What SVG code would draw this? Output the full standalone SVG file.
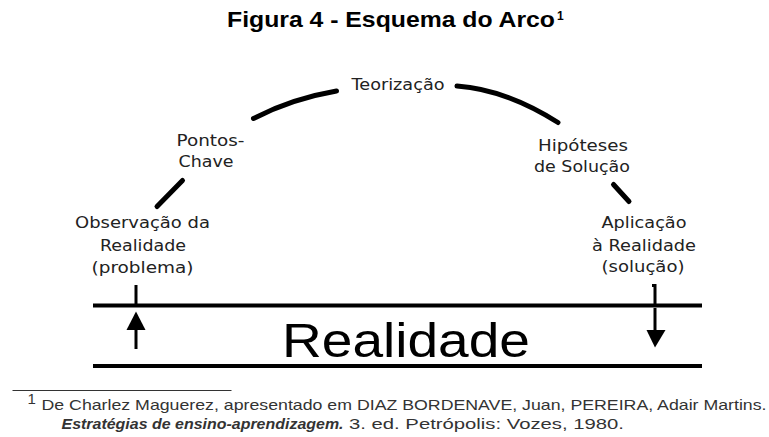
<svg xmlns="http://www.w3.org/2000/svg" width="769" height="437" viewBox="0 0 769 437">
<style>
.title{font-family:"Liberation Sans",Arial,sans-serif;font-weight:bold;fill:#000}
.lbl{font-family:"DejaVu Sans",Verdana,sans-serif;font-size:15px;fill:#222;text-anchor:middle}
.arc{fill:none;stroke:#000;stroke-width:5;stroke-linecap:round}
.bar{stroke:#000;stroke-width:4}
.tick{stroke:#000;stroke-width:3;fill:none}
.big{font-family:"Liberation Sans",Arial,sans-serif;font-size:49px;fill:#000}
.fn{font-family:"Liberation Sans",Arial,sans-serif;font-size:15px;fill:#333}
</style>
<rect width="769" height="437" fill="#fff"/>
<g id="title">
<text class="title" x="227" y="27" font-size="22" textLength="328" lengthAdjust="spacingAndGlyphs">Figura 4 - Esquema do Arco</text>
<text class="title" x="557" y="20" font-size="12">1</text>
</g>
<g id="node-teorizacao"><text class="lbl" x="398" y="90" textLength="93" lengthAdjust="spacingAndGlyphs">Teorização</text></g>
<g id="node-pontos-chave">
<text class="lbl" x="210.5" y="146" textLength="68" lengthAdjust="spacingAndGlyphs">Pontos-</text>
<text class="lbl" x="206" y="167" textLength="55" lengthAdjust="spacingAndGlyphs">Chave</text>
</g>
<g id="node-observacao">
<text class="lbl" x="142.5" y="228" textLength="135" lengthAdjust="spacingAndGlyphs">Observação da</text>
<text class="lbl" x="143" y="251" textLength="86" lengthAdjust="spacingAndGlyphs">Realidade</text>
<text class="lbl" x="142.5" y="273" textLength="102" lengthAdjust="spacingAndGlyphs">(problema)</text>
</g>
<g id="node-hipoteses">
<text class="lbl" x="583" y="151" textLength="90" lengthAdjust="spacingAndGlyphs">Hipóteses</text>
<text class="lbl" x="582" y="172" textLength="96" lengthAdjust="spacingAndGlyphs">de Solução</text>
</g>
<g id="node-aplicacao">
<text class="lbl" x="644" y="228" textLength="85" lengthAdjust="spacingAndGlyphs">Aplicação</text>
<text class="lbl" x="644" y="251" textLength="104" lengthAdjust="spacingAndGlyphs">à Realidade</text>
<text class="lbl" x="643" y="272" textLength="83" lengthAdjust="spacingAndGlyphs">(solução)</text>
</g>
<g id="node-realidade">
<line class="bar" x1="93" y1="305.5" x2="702" y2="305.5"/>
<line class="bar" x1="93" y1="366" x2="702" y2="366"/>
<text class="big" x="282" y="357" textLength="248" lengthAdjust="spacingAndGlyphs">Realidade</text>
</g>
<g id="connectors">
<path class="arc" d="M157,206.5 L182.5,180.5"/>
<path class="arc" d="M253.5,118.5 Q291.5,98.7 336.5,91"/>
<path class="arc" d="M457,86 Q506,89.5 558,122.5"/>
<path class="arc" d="M613.5,184.5 L629,201.5"/>
<line class="tick" x1="136" y1="285" x2="136" y2="305"/>
<path class="tick" d="M652,285.5 L655,285.5 L655,305"/>
<line class="tick" x1="136" y1="329" x2="136" y2="349"/>
<polygon points="136,311.5 126.5,330 145.5,330" fill="#000"/>
<line class="tick" x1="655" y1="308" x2="655" y2="331"/>
<polygon points="655,347.5 646.5,330 665.5,330" fill="#000"/>
</g>
<g id="footnote">
<line x1="12.5" y1="390.5" x2="231.5" y2="390.5" stroke="#333" stroke-width="1"/>
<text class="fn" x="27.5" y="404" font-size="11">1</text>
<text class="fn" x="41.5" y="410" textLength="725" lengthAdjust="spacingAndGlyphs">De Charlez Maguerez, apresentado em DIAZ BORDENAVE, Juan, PEREIRA, Adair Martins.</text>
<text class="fn" x="61.5" y="429" font-weight="bold" font-style="italic" fill="#111" textLength="282" lengthAdjust="spacingAndGlyphs">Estratégias de ensino-aprendizagem.</text>
<text class="fn" x="349" y="429" textLength="275" lengthAdjust="spacingAndGlyphs">3. ed. Petrópolis: Vozes, 1980.</text>
</g>
</svg>
